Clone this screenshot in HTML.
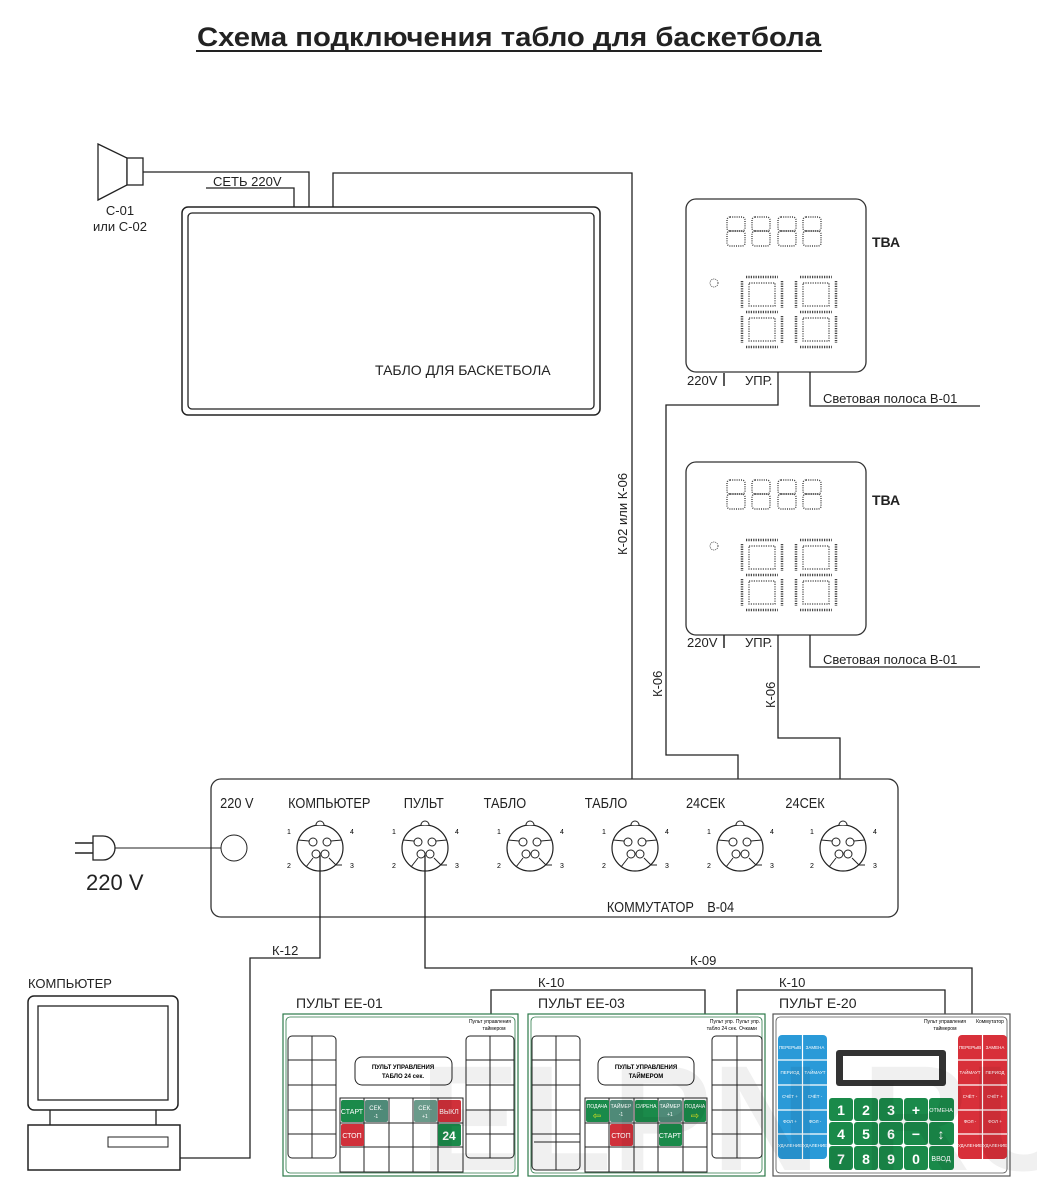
<!DOCTYPE html>
<html><head><meta charset="utf-8"><style>
html,body{margin:0;padding:0;background:#fff}
svg{display:block}
text{font-family:"Liberation Sans",sans-serif}
</style></head><body>
<svg width="1037" height="1200" viewBox="0 0 1037 1200" xmlns="http://www.w3.org/2000/svg">
<defs>
<g id="conn">
<circle r="23" fill="#fff" stroke="#222" stroke-width="1.2"/>
<path d="M-4,-23 a4,4 0 0 1 8,0" fill="#fff" stroke="#222"/>
<circle cx="-7" cy="-6" r="4" fill="#fff" stroke="#222"/>
<circle cx="7" cy="-6" r="4" fill="#fff" stroke="#222"/>
<circle cx="-4" cy="6" r="4" fill="#fff" stroke="#222"/>
<circle cx="5" cy="6" r="4" fill="#fff" stroke="#222"/>
<path d="M-22,-8 L-11,-7 M22,-8 L11,-7 M-7,10 L-14,19 M9,10 L16,17 L22,17" stroke="#222" fill="none"/>
<text x="-33" y="-14" font-size="7">1</text><text x="30" y="-14" font-size="7">4</text>
<text x="-33" y="20" font-size="7">2</text><text x="30" y="20" font-size="7">3</text>
</g>
<g id="d8s" fill="none" stroke="#444" stroke-width="1.4" stroke-dasharray="1 1.2">
<rect x="0" y="0" width="18" height="14" rx="3"/><rect x="0" y="14" width="18" height="15" rx="3"/>
</g>
<g id="d8b" fill="none" stroke="#444" stroke-width="2.5" stroke-dasharray="1.2 1.2">
<path d="M6,2 H38 M2,6 V33 M42,6 V33 M6,37 H38 M2,41 V68 M42,41 V68 M6,72 H38"/>
<path d="M9,8 H35 V31 H9 Z M9,43 H35 V66 H9 Z" stroke-width="1.2"/>
</g>
<g id="tva">
<rect x="0" y="0" width="180" height="173" rx="10" fill="#fff" stroke="#333" stroke-width="1.3"/>
<use href="#d8s" x="41" y="18"/><use href="#d8s" x="66" y="18"/><use href="#d8s" x="92" y="18"/><use href="#d8s" x="117" y="18"/>
<circle cx="28" cy="84" r="4" fill="none" stroke="#555" stroke-dasharray="1 1"/>
<use href="#d8b" x="54" y="76"/><use href="#d8b" x="108" y="76"/>
</g>
</defs>

<text x="197" y="46" font-size="27" font-weight="bold" textLength="624" lengthAdjust="spacingAndGlyphs" fill="#222">Схема подключения табло для баскетбола</text>
<line x1="196" y1="51" x2="822" y2="51" stroke="#222" stroke-width="2"/>

<!-- speaker -->
<path d="M98,144 L127,158 L127,185 L98,200 Z" fill="#fff" stroke="#222" stroke-width="1.3"/>
<rect x="127" y="158" width="16" height="27" fill="#fff" stroke="#222" stroke-width="1.3"/>
<text x="120" y="215" font-size="13" text-anchor="middle" fill="#222">С-01</text>
<text x="120" y="231" font-size="13" text-anchor="middle" fill="#222">или С-02</text>
<path d="M143,172 H309 V208" fill="none" stroke="#222" stroke-width="1.3"/>
<text x="213" y="186" font-size="13" fill="#222">СЕТЬ 220V</text>
<path d="M206,188 H294 V208" fill="none" stroke="#222" stroke-width="1.3"/>
<path d="M333,208 V173 H632 V826" fill="none" stroke="#222" stroke-width="1.3"/>
<text transform="translate(627,555) rotate(-90)" font-size="13" fill="#222">К-02 или К-06</text>

<!-- tablo -->
<rect x="182" y="207" width="418" height="208" rx="6" fill="#fff" stroke="#222" stroke-width="1.5"/>
<rect x="188" y="213" width="406" height="196" rx="4" fill="none" stroke="#222" stroke-width="1.3"/>
<text x="375" y="375" font-size="14" fill="#222">ТАБЛО ДЛЯ БАСКЕТБОЛА</text>

<!-- TVA 1 -->
<use href="#tva" x="686" y="199"/>
<text x="872" y="247" font-size="14" font-weight="bold" fill="#222">ТВА</text>
<text x="687" y="385" font-size="13" fill="#222">220V</text><line x1="724" y1="373" x2="724" y2="386" stroke="#222" stroke-width="1.5"/>
<text x="745" y="385" font-size="13" fill="#222">УПР.</text>
<path d="M778,372 V405 H666 V755 H738 V826" fill="none" stroke="#222" stroke-width="1.3"/>
<path d="M810,372 V406 H980" fill="none" stroke="#222" stroke-width="1.3"/>
<text x="823" y="403" font-size="13" fill="#222">Световая полоса  В-01</text>

<!-- TVA 2 -->
<use href="#tva" x="686" y="462"/>
<text x="872" y="505" font-size="14" font-weight="bold" fill="#222">ТВА</text>
<text x="687" y="647" font-size="13" fill="#222">220V</text><line x1="724" y1="635" x2="724" y2="648" stroke="#222" stroke-width="1.5"/>
<text x="745" y="647" font-size="13" fill="#222">УПР.</text>
<path d="M778,635 V738 H840 V826" fill="none" stroke="#222" stroke-width="1.3"/>
<path d="M810,635 V667 H980" fill="none" stroke="#222" stroke-width="1.3"/>
<text x="823" y="664" font-size="13" fill="#222">Световая полоса  В-01</text>
<text transform="translate(662,697) rotate(-90)" font-size="13" fill="#222">К-06</text>
<text transform="translate(775,708) rotate(-90)" font-size="13" fill="#222">К-06</text>

<!-- commutator -->
<rect x="211" y="779" width="687" height="138" rx="10" fill="#fff" stroke="#333" stroke-width="1.3"/>
<g font-size="15" fill="#222" transform="scale(0.85,1)">
<text x="259" y="808">220 V</text>
<text x="339" y="808">КОМПЬЮТЕР</text>
<text x="475" y="808">ПУЛЬТ</text>
<text x="569" y="808">ТАБЛО</text>
<text x="688" y="808">ТАБЛО</text>
<text x="807" y="808">24СЕК</text>
<text x="924" y="808">24СЕК</text>
<text x="714" y="912">КОММУТАТОР</text>
<text x="832" y="912">В-04</text>
</g>
<circle cx="234" cy="848" r="13" fill="#fff" stroke="#222"/>
<line x1="115" y1="848" x2="221" y2="848" stroke="#222"/>
<path d="M93,836 H103 A12,12 0 0 1 103,860 H93 Z" fill="#fff" stroke="#222" stroke-width="1.3"/>
<path d="M75,843 H93 M75,853 H93" stroke="#222" stroke-width="1.5"/>
<text x="86" y="890" font-size="22" fill="#222">220 V</text>
<use href="#conn" x="320" y="848"/>
<use href="#conn" x="425" y="848"/>
<use href="#conn" x="530" y="848"/>
<use href="#conn" x="635" y="848"/>
<use href="#conn" x="740" y="848"/>
<use href="#conn" x="843" y="848"/>

<!-- cables below -->
<path d="M320,855 V958 H250 V1158 H180" fill="none" stroke="#222" stroke-width="1.3"/>
<text x="272" y="955" font-size="13" fill="#222">К-12</text>
<path d="M425,855 V968 H972 V1015" fill="none" stroke="#222" stroke-width="1.3"/>
<text x="690" y="965" font-size="13" fill="#222">К-09</text>
<path d="M491,1015 V990 H705 V1015" fill="none" stroke="#222" stroke-width="1.3"/>
<text x="538" y="987" font-size="13" fill="#222">К-10</text>
<path d="M737,1015 V990 H945 V1015" fill="none" stroke="#222" stroke-width="1.3"/>
<text x="779" y="987" font-size="13" fill="#222">К-10</text>

<!-- computer -->
<text x="28" y="988" font-size="13" fill="#222">КОМПЬЮТЕР</text>
<rect x="28" y="996" width="150" height="114" rx="6" fill="#fff" stroke="#222" stroke-width="1.5"/>
<rect x="38" y="1006" width="130" height="94" fill="#fff" stroke="#222" stroke-width="1.3"/>
<path d="M50,1110 V1125 M156,1110 V1125" stroke="#222" stroke-width="1.3"/>
<rect x="28" y="1125" width="152" height="45" fill="#fff" stroke="#222" stroke-width="1.5"/>
<rect x="108" y="1137" width="60" height="10" fill="#fff" stroke="#222"/>

<!-- panel labels -->
<g font-size="14" fill="#222">
<text x="296" y="1008">ПУЛЬТ  ЕЕ-01</text>
<text x="538" y="1008">ПУЛЬТ  ЕЕ-03</text>
<text x="779" y="1008">ПУЛЬТ  Е-20</text>
</g>

<!-- EE-01 -->
<g>
<rect x="283" y="1014" width="235" height="162" fill="#fff" stroke="#2d7a4a" stroke-width="1.2"/>
<rect x="286" y="1017" width="229" height="156" rx="4" fill="none" stroke="#2d7a4a" stroke-width="0.8"/>
<rect x="288" y="1036" width="48" height="122" rx="4" fill="none" stroke="#222"/>
<path d="M312,1036 V1158 M288,1060 H336 M288,1085 H336 M288,1110 H336 M288,1134 H336" stroke="#222"/>
<rect x="466" y="1036" width="48" height="122" rx="4" fill="none" stroke="#222"/>
<path d="M490,1036 V1158 M466,1060 H514 M466,1085 H514 M466,1110 H514 M466,1134 H514" stroke="#222"/>
<text x="490" y="1023" font-size="5" text-anchor="middle">Пульт управления</text>
<text x="494" y="1030" font-size="5" text-anchor="middle">таймером</text>
<rect x="355" y="1057" width="97" height="28" rx="7" fill="#fff" stroke="#222"/>
<text x="403" y="1069" font-size="6" text-anchor="middle" font-weight="bold">ПУЛЬТ УПРАВЛЕНИЯ</text>
<text x="403" y="1078" font-size="6" text-anchor="middle" font-weight="bold">ТАБЛО  24 сек.</text>
<rect x="340" y="1098" width="123" height="74" fill="#fff" stroke="#222"/>
<path d="M364,1098 V1172 M389,1098 V1172 M413,1098 V1172 M438,1098 V1172 M340,1123 H463 M340,1147 H463" stroke="#222"/>
<rect x="341" y="1100" width="23" height="22" rx="2" fill="#1a8a4a"/><text x="352" y="1114" font-size="7" fill="#fff" text-anchor="middle">СТАРТ</text>
<rect x="365" y="1100" width="23" height="22" rx="2" fill="#4f8a78"/><text x="376" y="1110" font-size="6" fill="#fff" text-anchor="middle">СЕК.</text><text x="376" y="1118" font-size="5" fill="#fff" text-anchor="middle">-1</text>
<rect x="414" y="1100" width="23" height="22" rx="2" fill="#6a9a8a"/><text x="425" y="1110" font-size="6" fill="#fff" text-anchor="middle">СЕК.</text><text x="425" y="1118" font-size="5" fill="#fff" text-anchor="middle">+1</text>
<rect x="438" y="1100" width="23" height="22" rx="2" fill="#d0303a"/><text x="449" y="1114" font-size="7" fill="#fff" text-anchor="middle">ВЫКЛ</text>
<rect x="341" y="1124" width="23" height="22" rx="2" fill="#d0303a"/><text x="352" y="1138" font-size="7" fill="#fff" text-anchor="middle">СТОП</text>
<rect x="438" y="1124" width="23" height="22" rx="2" fill="#1a8a4a"/><text x="449" y="1140" font-size="12" font-weight="bold" fill="#fff" text-anchor="middle">24</text>
</g>

<!-- EE-03 -->
<g>
<rect x="528" y="1014" width="237" height="162" fill="#fff" stroke="#2d7a4a" stroke-width="1.2"/>
<rect x="531" y="1017" width="231" height="156" rx="4" fill="none" stroke="#2d7a4a" stroke-width="0.8"/>
<rect x="532" y="1036" width="48" height="134" rx="4" fill="none" stroke="#222"/>
<path d="M556,1036 V1170 M532,1060 H580 M532,1085 H580 M532,1110 H580 M532,1134 H580 M534,1142 H580" stroke="#222"/>
<rect x="712" y="1036" width="50" height="122" rx="4" fill="none" stroke="#222"/>
<path d="M737,1036 V1158 M712,1060 H762 M712,1085 H762 M712,1110 H762 M712,1134 H762" stroke="#222"/>
<text x="722" y="1023" font-size="5" text-anchor="middle">Пульт упр.</text><text x="722" y="1030" font-size="5" text-anchor="middle">табло  24 сек.</text>
<text x="748" y="1023" font-size="5" text-anchor="middle">Пульт упр.</text><text x="748" y="1030" font-size="5" text-anchor="middle">Очками</text>
<rect x="598" y="1057" width="96" height="28" rx="7" fill="#fff" stroke="#222"/>
<text x="646" y="1069" font-size="6" text-anchor="middle" font-weight="bold">ПУЛЬТ УПРАВЛЕНИЯ</text>
<text x="646" y="1078" font-size="6" text-anchor="middle" font-weight="bold">ТАЙМЕРОМ</text>
<rect x="585" y="1098" width="122" height="74" fill="#fff" stroke="#222"/>
<path d="M609,1098 V1172 M634,1098 V1172 M658,1098 V1172 M683,1098 V1172 M585,1123 H707 M585,1147 H707" stroke="#222"/>
<rect x="586" y="1100" width="23" height="22" rx="2" fill="#1a8a4a"/><text x="597" y="1108" font-size="5" fill="#fff" text-anchor="middle">ПОДАЧА</text><text x="597" y="1119" font-size="10" fill="#d6e020" text-anchor="middle">⇦</text>
<rect x="610" y="1100" width="23" height="22" rx="2" fill="#4f8a78"/><text x="621" y="1108" font-size="5" fill="#fff" text-anchor="middle">ТАЙМЕР</text><text x="621" y="1116" font-size="5" fill="#fff" text-anchor="middle">-1</text>
<rect x="635" y="1100" width="23" height="22" rx="2" fill="#1a8a4a"/><text x="646" y="1108" font-size="5" fill="#fff" text-anchor="middle">СИРЕНА</text>
<rect x="659" y="1100" width="23" height="22" rx="2" fill="#4f8a78"/><text x="670" y="1108" font-size="5" fill="#fff" text-anchor="middle">ТАЙМЕР</text><text x="670" y="1116" font-size="5" fill="#fff" text-anchor="middle">+1</text>
<rect x="684" y="1100" width="22" height="22" rx="2" fill="#1a8a4a"/><text x="695" y="1108" font-size="5" fill="#fff" text-anchor="middle">ПОДАЧА</text><text x="695" y="1119" font-size="10" fill="#d6e020" text-anchor="middle">⇨</text>
<rect x="610" y="1124" width="23" height="22" rx="2" fill="#d0303a"/><text x="621" y="1138" font-size="7" fill="#fff" text-anchor="middle">СТОП</text>
<rect x="659" y="1124" width="23" height="22" rx="2" fill="#1a8a4a"/><text x="670" y="1138" font-size="7" fill="#fff" text-anchor="middle">СТАРТ</text>
</g>

<!-- E-20 -->
<g>
<rect x="773" y="1014" width="237" height="162" fill="#fff" stroke="#555" stroke-width="1.2"/>
<rect x="776" y="1017" width="231" height="156" rx="4" fill="none" stroke="#555" stroke-width="0.8"/>
<text x="945" y="1023" font-size="5" text-anchor="middle">Пульт управления</text><text x="945" y="1030" font-size="5" text-anchor="middle">таймером</text>
<text x="990" y="1023" font-size="5" text-anchor="middle">Коммутатор</text>
<rect x="778" y="1035" width="49" height="124" rx="4" fill="#2a9ad8"/>
<path d="M802.5,1035 V1159 M778,1060 H827 M778,1085 H827 M778,1110 H827 M778,1134 H827" stroke="#fff" stroke-width="1.2"/>
<g font-size="4.5" fill="#fff" text-anchor="middle">
<text x="790" y="1049">ПЕРЕРЫВ</text><text x="815" y="1049">ЗАМЕНА</text>
<text x="790" y="1074">ПЕРИОД</text><text x="815" y="1074">ТАЙМАУТ</text>
<text x="790" y="1098">СЧЁТ +</text><text x="815" y="1098">СЧЁТ -</text>
<text x="790" y="1123">ФОЛ +</text><text x="815" y="1123">ФОЛ -</text>
<text x="790" y="1147">УДАЛЕНИЕ</text><text x="815" y="1147">УДАЛЕНИЕ</text>
</g>
<rect x="958" y="1035" width="49" height="124" rx="4" fill="#d8303a"/>
<path d="M982.5,1035 V1159 M958,1060 H1007 M958,1085 H1007 M958,1110 H1007 M958,1134 H1007" stroke="#fff" stroke-width="1.2"/>
<g font-size="4.5" fill="#fff" text-anchor="middle">
<text x="970" y="1049">ПЕРЕРЫВ</text><text x="995" y="1049">ЗАМЕНА</text>
<text x="970" y="1074">ТАЙМАУТ</text><text x="995" y="1074">ПЕРИОД</text>
<text x="970" y="1098">СЧЁТ -</text><text x="995" y="1098">СЧЁТ +</text>
<text x="970" y="1123">ФОЛ -</text><text x="995" y="1123">ФОЛ +</text>
<text x="970" y="1147">УДАЛЕНИЕ</text><text x="995" y="1147">УДАЛЕНИЕ</text>
</g>
<rect x="836" y="1050" width="110" height="36" rx="3" fill="#333"/>
<rect x="843" y="1056" width="96" height="24" fill="#fff"/>
<g fill="#1a8a4a">
<rect x="829" y="1098" width="24" height="23" rx="3"/><rect x="854" y="1098" width="24" height="23" rx="3"/><rect x="879" y="1098" width="24" height="23" rx="3"/><rect x="904" y="1098" width="24" height="23" rx="3"/><rect x="929" y="1098" width="25" height="23" rx="3"/>
<rect x="829" y="1122" width="24" height="23" rx="3"/><rect x="854" y="1122" width="24" height="23" rx="3"/><rect x="879" y="1122" width="24" height="23" rx="3"/><rect x="904" y="1122" width="24" height="23" rx="3"/><rect x="929" y="1122" width="25" height="23" rx="3"/>
<rect x="829" y="1146" width="24" height="24" rx="3"/><rect x="854" y="1146" width="24" height="24" rx="3"/><rect x="879" y="1146" width="24" height="24" rx="3"/><rect x="904" y="1146" width="24" height="24" rx="3"/><rect x="929" y="1146" width="25" height="24" rx="3"/>
</g>
<g font-size="14" font-weight="bold" fill="#fff" text-anchor="middle">
<text x="841" y="1115">1</text><text x="866" y="1115">2</text><text x="891" y="1115">3</text><text x="916" y="1115">+</text>
<text x="841" y="1139">4</text><text x="866" y="1139">5</text><text x="891" y="1139">6</text><text x="916" y="1139">−</text><text x="941" y="1139">↕</text>
<text x="841" y="1164">7</text><text x="866" y="1164">8</text><text x="891" y="1164">9</text><text x="916" y="1164">0</text>
</g>
<text x="941" y="1112" font-size="5.5" fill="#fff" text-anchor="middle">ОТМЕНА</text>
<text x="941" y="1161" font-size="7" fill="#fff" text-anchor="middle">ВВОД</text>
</g>

<!-- watermark -->
<text x="420" y="1170" font-size="150" fill="#000" fill-opacity="0.06" font-weight="bold">ELPN.RU</text>
</svg>
</body></html>
